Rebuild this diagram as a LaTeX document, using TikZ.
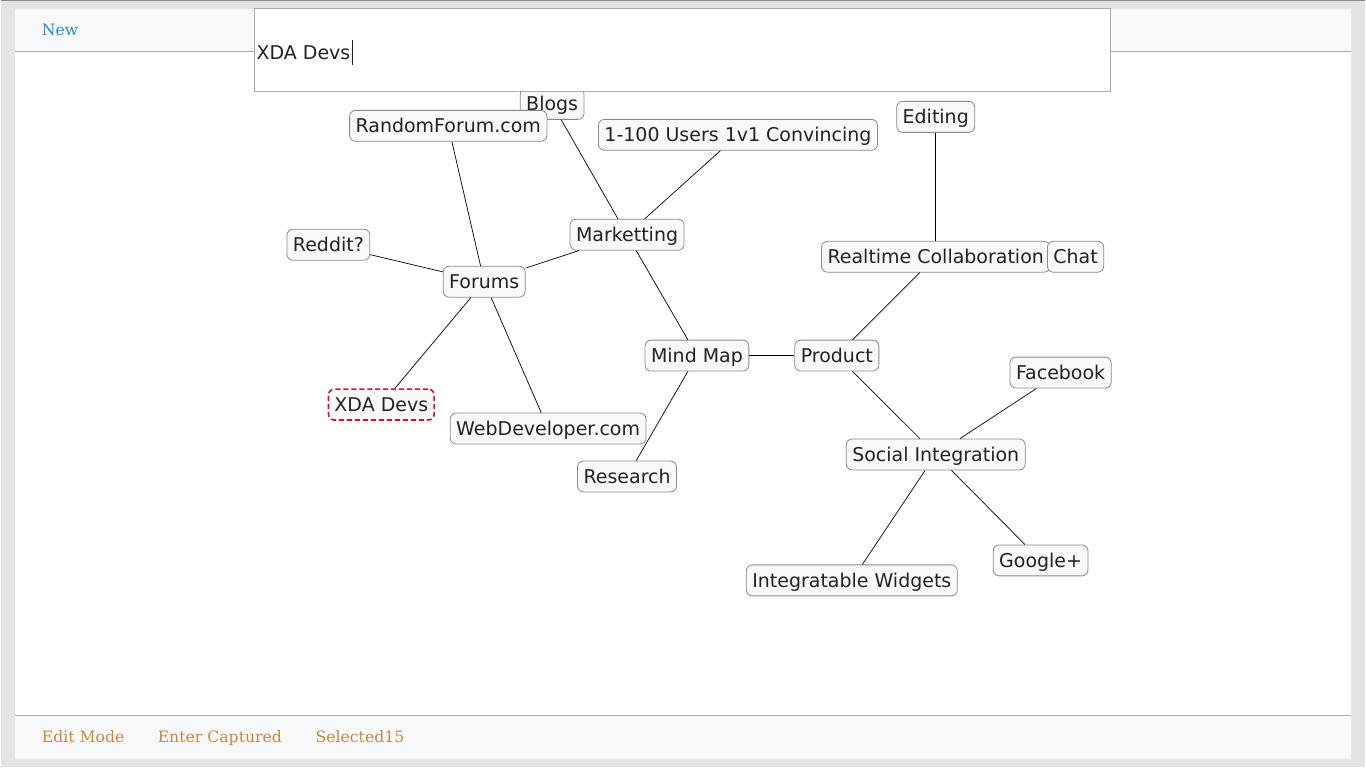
\documentclass[tikz,border=0pt]{standalone}
\usepackage{fontspec}
\setmainfont{DejaVu Serif}
\setsansfont{DejaVu Sans}
\usetikzlibrary{positioning,calc}
\definecolor{mapPageBg}{HTML}{E4E4E4}
\definecolor{mapBarBg}{HTML}{F7F8FA}
\definecolor{mapBarLine}{HTML}{AAAAAA}
\definecolor{mapBoxLine}{HTML}{8A8A8A}
\definecolor{mapBoxBg}{HTML}{F9F9F9}
\definecolor{mapText}{HTML}{222222}
\definecolor{mapRed}{HTML}{D8131B}
\definecolor{mapBlue}{HTML}{2E8BC9}
\definecolor{mapOrange}{HTML}{C98A3C}
\tikzset{
  topic box/.style={
    rectangle, rounded corners=6pt,
    draw=mapBoxLine, fill=mapBoxBg, line width=0.8pt,
    inner xsep=6pt, inner ysep=6.5pt,
    text height=16pt, text depth=2pt,
    font=\sffamily\fontsize{19}{22}\selectfont, text=mapText,
  },
  selected box/.style={
    topic box, draw=mapRed, line width=1.6pt,
    dash pattern=on 5pt off 3pt,
  },
  link/.style={draw=black, line width=0.7pt},
  menu text/.style={
    anchor=base west, inner sep=0pt,
    font=\fontsize{15.7}{19}\selectfont,
  },
}

\begin{document}
\begin{tikzpicture}[x=1pt, y=-1pt]

%% PAGE ===============================================================
\fill[mapPageBg] (0,0) rectangle (1366,768);
\draw[mapBarLine!80!black, line width=1.5pt] (0,0.75) -- (1366,0.75);
\fill[white] (14,9) rectangle (1352,760);
\fill[mapBarBg] (14,9) rectangle (1352,52);
\fill[mapBarBg] (14,716) rectangle (1352,760);
\draw[mapBarLine, line width=1pt] (14,52) -- (1352,52);
\draw[mapBarLine, line width=1pt] (14,716) -- (1352,716);

\node[menu text, text=mapBlue] (new) at (41,36) {New};
\node[menu text, text=mapOrange] (editmode) at (41,743) {Edit Mode};
\node[menu text, text=mapOrange] (entercap) at (157,743) {Enter Captured};
\node[menu text, text=mapOrange] (selcount) at (315,743) {Selected15};

%% TOPICS =============================================================
\node[topic box] (mindmap) at (697,356) {Mind Map};
\node[topic box] (marketting) at (627,235) {Marketting};
\node[topic box] (forums) at (484,282) {Forums};
\node[topic box] (blogs) at (552,104) {Blogs};
\node[topic box] (users) at (738,135) {1-100 Users 1v1 Convincing};
\node[topic box] (randomforum) at (448,126) {RandomForum.com};
\node[topic box] (reddit) at (328,245) {Reddit?};
\node[selected box] (xda) at (381,405) {XDA Devs};
\node[topic box] (webdev) at (548,429) {WebDeveloper.com};
\node[topic box] (research) at (627,477) {Research};
\node[topic box] (product) at (837,356) {Product};
\node[topic box] (realtime) at (936,257) {Realtime Collaboration};
\node[topic box] (chat) at (1076,257) {Chat};
\node[topic box] (editing) at (936,117) {Editing};
\node[topic box] (social) at (936,455) {Social Integration};
\node[topic box] (facebook) at (1061,373) {Facebook};
\node[topic box] (googleplus) at (1041,561) {Google+};
\node[topic box] (widgets) at (852,581) {Integratable Widgets};

%% LINKS ==============================================================
\draw[link] (forums) -- (randomforum);
\draw[link] (forums) -- (reddit);
\draw[link] (forums) -- (marketting);
\draw[link] (forums) -- (xda);
\draw[link] (forums) -- (webdev);
\draw[link] (marketting) -- (blogs);
\draw[link] (marketting) -- (users);
\draw[link] (marketting) -- (mindmap);
\draw[link] (mindmap) -- (research);
\draw[link] (mindmap) -- (product);
\draw[link] (product) -- (realtime);
\draw[link] (realtime) -- (editing);
\draw[link] (product) -- (social);
\draw[link] (social) -- (facebook);
\draw[link] (social) -- (googleplus);
\draw[link] (social) -- (widgets);

%% INPUT BOX ==========================================================
\draw[mapBarLine, fill=white, line width=1pt] (254,9) rectangle (1111,92);
\node[anchor=base west, inner sep=0pt, text=mapText,
  font=\sffamily\fontsize{19}{22}\selectfont] (input) at (256,60) {XDA Devs};
\draw[mapText, line width=1.3pt]
  ($(input.base east)+(2,5)$) -- ($(input.base east)+(2,-20)$);

\end{tikzpicture}
\end{document}
